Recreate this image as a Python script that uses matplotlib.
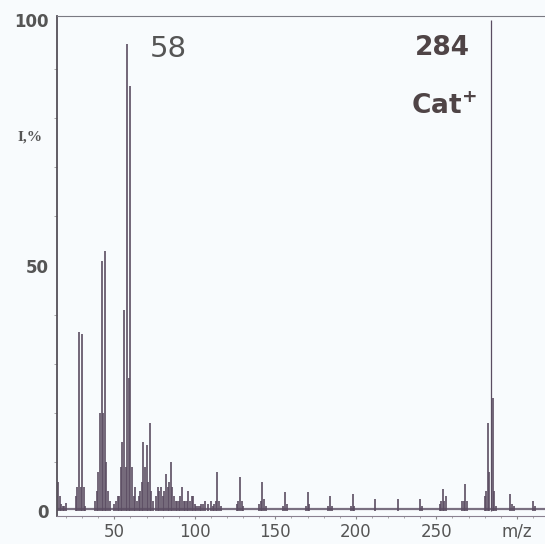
import matplotlib
matplotlib.use("Agg")
import matplotlib.pyplot as plt
from matplotlib.ticker import MultipleLocator

# m/z values and relative intensities (%)
mz = [15, 16, 17, 18, 19, 20,
      26, 27, 28, 29, 30, 31, 32,
      38, 39, 40, 41, 42, 43, 44, 45, 46, 47,
      50, 51, 52, 53, 54, 55, 56, 57, 58, 59, 60, 61, 62, 63, 64,
      65, 66, 67, 68, 69, 70, 71, 72, 73, 74,
      76, 77, 78, 79, 80, 81, 82, 83, 84, 85, 86, 87, 88, 89, 90,
      91, 92, 93, 94, 95, 96, 97, 98, 99, 100,
      101, 102, 103, 104, 105, 106, 108, 110, 111, 112, 113,
      114, 115, 116,
      126, 127, 128, 129, 130,
      140, 141, 142, 143, 144,
      155, 156, 157, 169, 170, 171, 183, 184, 185, 197, 198, 199,
      212, 226, 240, 241,
      252, 253, 254, 255, 256,
      266, 267, 268, 269,
      280, 281, 282, 283, 284, 285, 286, 287,
      296, 297, 298, 310, 311]
intensity = [6, 3, 1.5, 1, 1, 1.6,
             3, 5, 36.5, 5, 36, 5, 1,
             2, 4, 8, 20, 51, 20, 53, 10, 4, 2,
             1.5, 2, 3, 3, 9, 14, 41, 9, 95, 27, 86.5, 9, 3, 5, 2,
             3, 4, 6, 14, 9, 13.5, 6, 18, 4, 2,
             3, 5, 4, 5, 3, 4, 7.5, 5, 6, 10, 5, 3, 2, 2, 2,
             3, 5, 2, 2, 2, 4, 2, 3, 3, 1.5,
             1, 1, 1, 1.5, 1.5, 2, 1.5, 2, 1, 1.5, 2,
             8, 2, 1,
             1.5, 2, 7, 2, 1,
             1.5, 2, 6, 2.5, 1,
             1, 3.9, 1.5, 1, 3.9, 1.5, 1, 3, 1, 1, 3.4, 1,
             2.4, 2.4, 2.4, 1,
             1.5, 2, 4.4, 2, 3,
             2, 2, 5.6, 2,
             3, 4, 18, 8, 100, 23, 4, 1,
             3.4, 1.5, 1, 2, 1]

x_ticks = [50, 100, 150, 200, 250, 300]
x_ticklabels = ["50", "100", "150", "200", "250", "m/z"]
y_ticks = [0, 50, 100]
y_ticklabels = ["0", "50", "100"]

bg = "#f8fbfd"
ink = "#5b4d62"
txt = "#555555"

fig = plt.figure(figsize=(5.45, 5.44), dpi=100, facecolor=bg)
ax = fig.add_axes([57 / 545, 28 / 544, 1 - 57 / 545, 500 / 544])
ax.set_facecolor(bg)

lws = [0.9 if v >= 99 else 1.2 for v in intensity]
ax.vlines(mz, 0, intensity, colors=ink, linewidths=lws)
ax.axhline(0.5, color=ink, lw=1.6, alpha=0.8)

ax.set_xlim(14.35, 317.5)
ax.set_ylim(-1.0, 100.8)

ax.set_xticks(x_ticks)
ax.set_xticklabels(x_ticklabels, fontsize=12, color=txt)
ax.set_yticks(y_ticks)
ax.set_yticklabels(y_ticklabels, fontsize=12, color=txt, fontweight="bold")
ax.xaxis.set_minor_locator(MultipleLocator(10))
ax.yaxis.set_minor_locator(MultipleLocator(10))
ax.tick_params(axis="x", which="major", length=2, pad=3, color="#888888")
ax.tick_params(axis="x", which="minor", length=1.5, color="#999999")
ax.tick_params(axis="y", which="major", length=0, pad=6)
ax.tick_params(axis="y", which="minor", length=2, color="#999999")

ax.spines["right"].set_visible(False)
ax.spines["top"].set_color("#7a7a82")
ax.spines["top"].set_linewidth(0.8)
ax.spines["left"].set_color("#555058")
ax.spines["left"].set_linewidth(1.3)
ax.spines["bottom"].set_color("#8a8090")
ax.spines["bottom"].set_linewidth(0.8)

fig.text(30 / 545, 1 - 137 / 544, "I,%", fontsize=11, fontweight="bold",
         family="Liberation Serif", color="#555555", ha="center", va="center")

ax.text(168 / 545, 1 - 49 / 544, "58", transform=fig.transFigure,
        fontsize=21, color="#555555", ha="center", va="center")
ax.text(442 / 545, 1 - 48 / 544, "284", transform=fig.transFigure,
        fontsize=19, fontweight="bold", color="#4f4446", ha="center", va="center")
ax.text(444 / 545, 1 - 107 / 544, r"Cat$^{\mathbf{+}}$", transform=fig.transFigure,
        fontsize=19, fontweight="bold", color="#4f4446", ha="center", va="center")

fig.savefig("out.png", dpi=100, facecolor=bg)
